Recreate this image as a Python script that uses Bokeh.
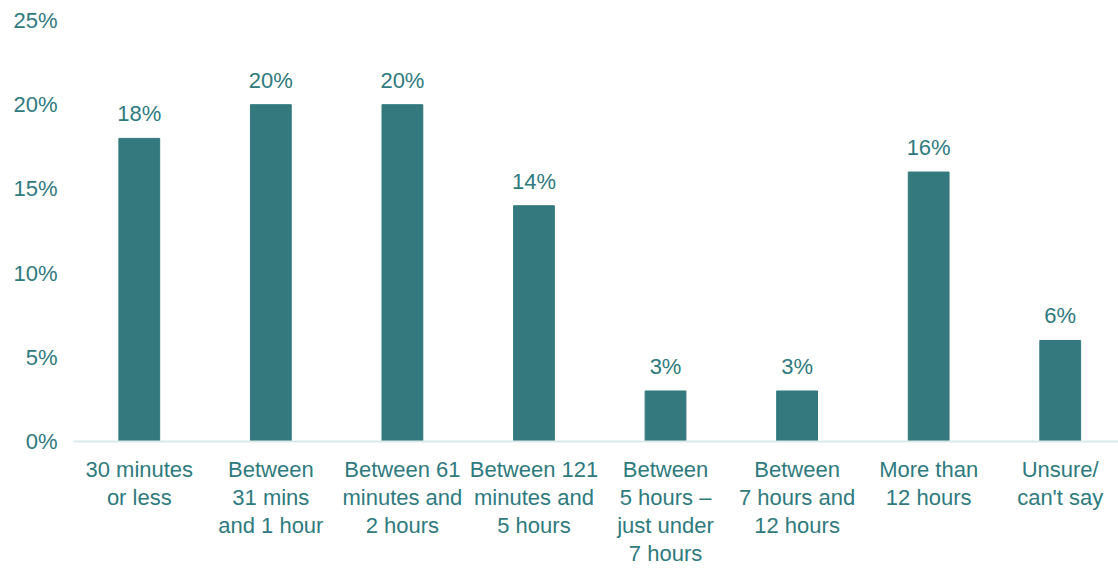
from bokeh.plotting import figure
from bokeh.models import Range1d, FixedTicker, ColumnDataSource, NumeralTickFormatter
from bokeh.core.properties import value
from bokeh.embed import file_html
from bokeh.resources import INLINE

categories = ["30 minutes\nor less", "Between\n31 mins\nand 1 hour", "Between 61\nminutes and\n2 hours",
              "Between 121\nminutes and\n5 hours", "Between\n5 hours \u2013\njust under\n7 hours",
              "Between\n7 hours and\n12 hours", "More than\n12 hours", "Unsure/\ncan't say"]
values = [18, 20, 20, 14, 3, 3, 16, 6]
y_ticks = [0, 5, 10, 15, 20, 25]

BAR = "#33797D"
TXT = "#2E7A7E"
FONT = "Liberation Sans"
FS = "22px"

xs = [i + 0.5 for i in range(len(categories))]
src = ColumnDataSource(dict(x=xs, top=values, lbl=[f"{v}%" for v in values]))

p = figure(width=1118, height=568, output_backend="svg", toolbar_location=None,
           x_range=Range1d(0, 7.943), y_range=Range1d(0, 25),
           min_border_left=73, min_border_right=0, min_border_top=20, min_border_bottom=126)
p.outline_line_color = None
p.background_fill_color = "white"
p.border_fill_color = "white"
p.xgrid.grid_line_color = None
p.ygrid.grid_line_color = None

p.vbar(x="x", top="top", width=0.31, bottom=0, source=src, color=BAR)
p.text(x="x", y="top", text="lbl", source=src, text_align="center", text_baseline="bottom",
       y_offset=-12, text_font=value(FONT), text_font_size=FS, text_color=TXT)

xa = p.xaxis[0]
xa.ticker = FixedTicker(ticks=xs)
xa.major_label_overrides = {x: c for x, c in zip(xs, categories)}
xa.major_tick_line_color = None
xa.minor_tick_line_color = None
xa.axis_line_color = "#D9E9EA"
xa.axis_line_width = 2
xa.major_label_standoff = 9
xa.major_label_text_font = FONT
xa.major_label_text_font_size = FS
xa.major_label_text_color = TXT
xa.major_label_text_line_height = 1.12

ya = p.yaxis[0]
ya.ticker = FixedTicker(ticks=y_ticks)
ya.formatter = NumeralTickFormatter(format="0")
ya.major_label_overrides = {t: f"{t}%" for t in y_ticks}
ya.axis_line_color = None
ya.major_tick_line_color = None
ya.minor_tick_line_color = None
ya.major_label_standoff = 10
ya.major_label_text_font = FONT
ya.major_label_text_font_size = FS
ya.major_label_text_color = TXT

open("out.html", "w").write(file_html(p, INLINE))
